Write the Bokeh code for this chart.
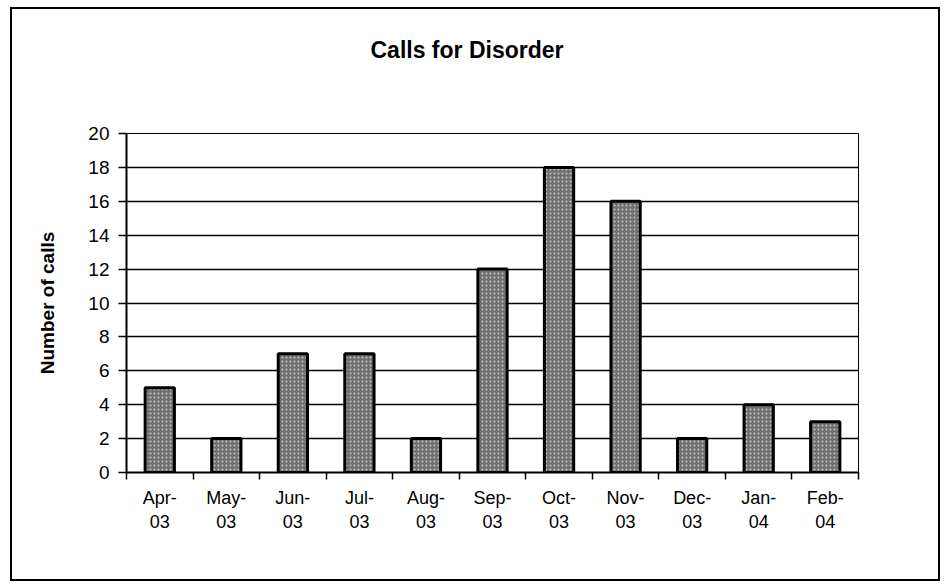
from bokeh.plotting import figure
from bokeh.models import Range1d, FixedTicker, Div
from bokeh.layouts import column
from bokeh.embed import file_html
from bokeh.resources import INLINE

title_text = "Calls for Disorder"
months = ["Apr-\n03", "May-\n03", "Jun-\n03", "Jul-\n03", "Aug-\n03", "Sep-\n03",
          "Oct-\n03", "Nov-\n03", "Dec-\n03", "Jan-\n04", "Feb-\n04"]
calls = [5, 2, 7, 7, 2, 12, 18, 16, 2, 4, 3]
y_ticks = [0, 2, 4, 6, 8, 10, 12, 14, 16, 18, 20]

n = len(months)
centers = [i + 0.5 for i in range(n)]
bounds = list(range(n + 1))

title_div = Div(text=title_text, width=926, height=82, margin=0,
                styles={"font-family": "Liberation Sans", "font-size": "23px",
                        "font-weight": "bold", "text-align": "center",
                        "line-height": "82px", "text-indent": "-16px", "color": "black"})

p = figure(width=926, height=488, output_backend="svg", toolbar_location=None,
           x_range=Range1d(0, n), y_range=Range1d(0, y_ticks[-1]),
           min_border_left=114, min_border_right=80, min_border_top=42, min_border_bottom=107)

p.vbar(x=centers, top=calls, width=0.44, bottom=0,
       fill_color="#707070", line_color="black", line_width=3,
       hatch_pattern="dot", hatch_color="white", hatch_scale=4, hatch_alpha=0.6)

p.xaxis.ticker = FixedTicker(ticks=centers, minor_ticks=bounds)
p.xaxis.major_label_overrides = {c: m for c, m in zip(centers, months)}
p.xaxis.major_tick_out = 0
p.xaxis.major_tick_in = 0
p.xaxis.minor_tick_out = 7
p.xaxis.minor_tick_in = 0
p.xaxis.minor_tick_line_color = "black"
p.xaxis.minor_tick_line_width = 1.5
p.xaxis.major_label_standoff = 8
p.xaxis.major_label_text_font = "Liberation Sans"
p.xaxis.major_label_text_font_size = "18px"
p.xaxis.major_label_text_color = "black"
p.xaxis.major_label_orientation = "horizontal"

p.yaxis.ticker = FixedTicker(ticks=y_ticks, minor_ticks=[])
p.yaxis.major_tick_out = 8
p.yaxis.major_tick_in = 0
p.yaxis.major_tick_line_color = "black"
p.yaxis.major_tick_line_width = 1.5
p.yaxis.major_label_standoff = 9
p.yaxis.major_label_text_font = "Liberation Sans"
p.yaxis.major_label_text_font_size = "19px"
p.yaxis.major_label_text_color = "black"
p.yaxis.axis_label = "Number of calls"
p.yaxis.axis_label_text_font = "Liberation Sans"
p.yaxis.axis_label_text_font_size = "19px"
p.yaxis.axis_label_text_font_style = "bold"
p.yaxis.axis_label_text_color = "black"
p.yaxis.axis_label_standoff = 27

for ax in (p.xaxis, p.yaxis):
    ax.axis_line_color = "black"
    ax.axis_line_width = 2

p.xgrid.visible = False
p.ygrid.ticker = FixedTicker(ticks=y_ticks)
p.ygrid.grid_line_color = "black"
p.ygrid.grid_line_width = 1.5

p.outline_line_color = "black"
p.outline_line_width = 1

layout = column(title_div, p, spacing=0,
                styles={"border": "2px solid black", "margin-left": "10px", "margin-top": "7px"})

open("out.html", "w").write(file_html(layout, INLINE))
